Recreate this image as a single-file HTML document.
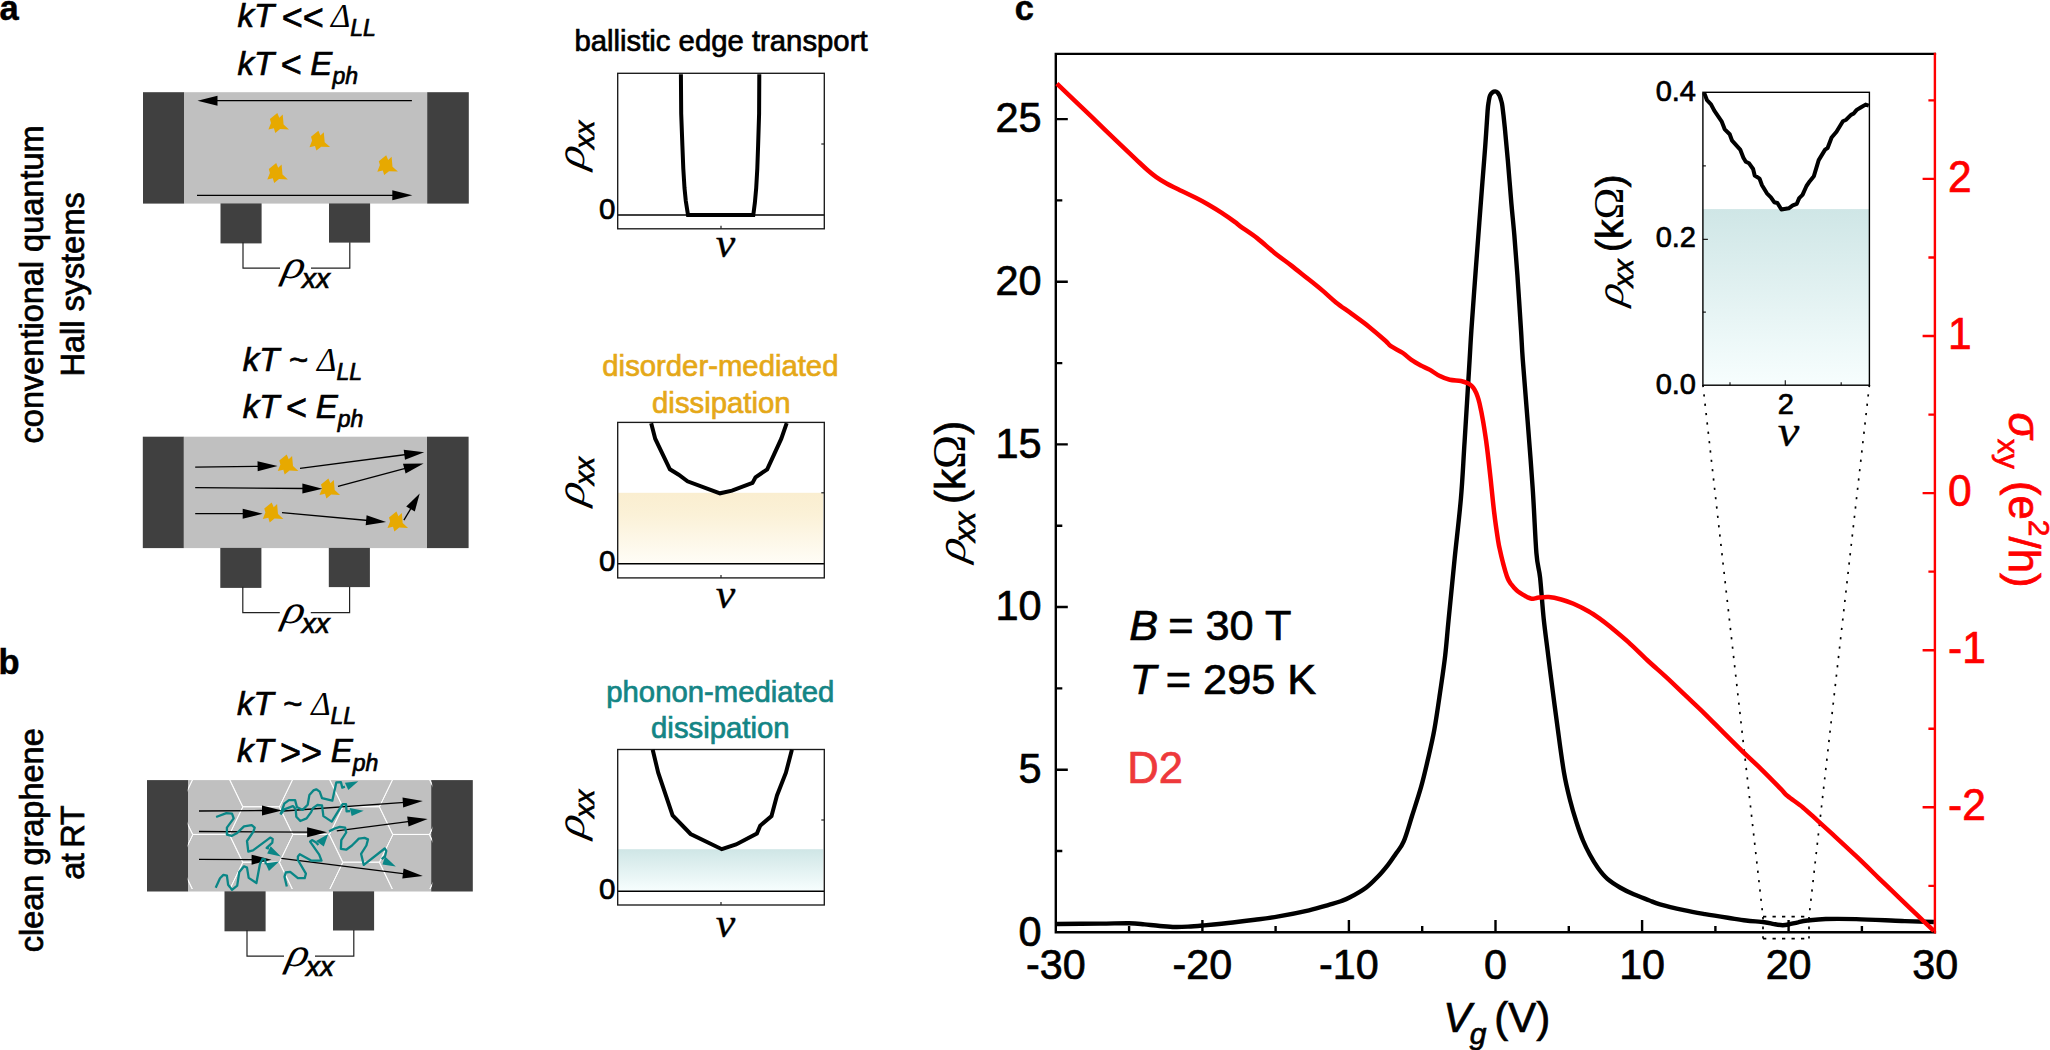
<!DOCTYPE html>
<html lang="en"><head><meta charset="utf-8"><title>Figure</title>
<style>html,body{margin:0;padding:0;background:#fff}body{width:2050px;height:1050px;overflow:hidden}svg{display:block}text{font-family:"Liberation Sans", sans-serif;stroke:#000;stroke-width:.7px}text[fill="#ff0000"]{stroke:#ff0000}text[fill="#ee393b"]{stroke:#ee393b}text[fill="#e5a818"]{stroke:#e5a818}text[fill="#148585"]{stroke:#148585}.i{font-style:italic}.s{font-family:"Liberation Serif", serif;stroke-width:0}.n{stroke-width:.3px}.b{font-weight:bold;stroke-width:.5px}</style></head><body>
<svg width="2050" height="1050" viewBox="0 0 2050 1050">
<defs><linearGradient id="gy" x1="0" y1="0" x2="0" y2="1"><stop offset="0" stop-color="#faeed0"/><stop offset="0.3" stop-color="#fbf1d7"/><stop offset="1" stop-color="#fffdf7"/></linearGradient><linearGradient id="gt" x1="0" y1="0" x2="0" y2="1"><stop offset="0" stop-color="#cfe6e6"/><stop offset="1" stop-color="#f7fefe"/></linearGradient><clipPath id="cg"><rect x="187.8" y="780.1" width="244.4" height="109"/></clipPath></defs>
<text x="-0.5" y="19.6" font-size="34.5" class="b">a</text>
<text x="-1.5" y="673.7" font-size="34.5" class="b">b</text>
<text x="1014.8" y="19.6" font-size="34.5" class="b">c</text>
<text transform="translate(42.9,284.4) rotate(-90)" text-anchor="middle" font-size="32.5" >conventional quantum</text>
<text transform="translate(84.0,284.4) rotate(-90)" text-anchor="middle" font-size="32.5" >Hall systems</text>
<text transform="translate(42.9,840.3) rotate(-90)" text-anchor="middle" font-size="32.5" >clean graphene</text>
<text transform="translate(84.0,842.9) rotate(-90)" text-anchor="middle" font-size="32.5" letter-spacing="-0.5" word-spacing="-2.5">at RT</text>
<text x="237.5" y="27.2" font-size="33" class="i" stroke="#000" stroke-width="0.45">kT<tspan font-size="36" dy="2.5" dx="7">&lt;&lt;</tspan><tspan dy="-2.5" dx="-1.5"> </tspan><tspan class="s i">Δ</tspan><tspan font-size="23" dy="9">LL</tspan></text>
<text x="237.5" y="74.6" font-size="33" class="i" stroke="#000" stroke-width="0.45">kT<tspan font-size="36" dy="2.5" dx="6">&lt;</tspan><tspan dy="-2.5"> E</tspan><tspan class="s i"></tspan><tspan font-size="23" dy="9">ph</tspan></text>
<text x="242.8" y="370.5" font-size="33" class="i" stroke="#000" stroke-width="0.45">kT ~ <tspan class="s i">Δ</tspan><tspan font-size="23" dy="9">LL</tspan></text>
<text x="242.8" y="417.8" font-size="33" class="i" stroke="#000" stroke-width="0.45">kT<tspan font-size="36" dy="2.5" dx="6">&lt;</tspan><tspan dy="-2.5"> E</tspan><tspan class="s i"></tspan><tspan font-size="23" dy="9">ph</tspan></text>
<text x="236.9" y="715.0" font-size="33" class="i" stroke="#000" stroke-width="0.45">kT ~ <tspan class="s i">Δ</tspan><tspan font-size="23" dy="9">LL</tspan></text>
<text x="236.9" y="762.2" font-size="33" class="i" stroke="#000" stroke-width="0.45">kT<tspan font-size="36" dy="2.5" dx="6">&gt;&gt;</tspan><tspan dy="-2.5"> E</tspan><tspan class="s i"></tspan><tspan font-size="23" dy="9">ph</tspan></text>
<rect x="143.0" y="92.2" width="41.1" height="111.4" fill="#404040"/>
<rect x="184.0" y="92.2" width="243.3" height="111.4" fill="#c0c0c0"/>
<rect x="427.2" y="92.2" width="41.6" height="111.4" fill="#404040"/>
<rect x="220.5" y="203.4" width="41.1" height="40" fill="#404040"/>
<rect x="329.0" y="203.4" width="41.1" height="39.2" fill="#404040"/>
<path d="M243.0 242.2V268.2H280.0 M349.8 242.2V268.2H311.0" fill="none" stroke="#222" stroke-width="1.2"/>
<g transform="translate(281.0,278.4) rotate(0)" fill="#000"><text transform="skewX(-12) scale(1.15,1)" font-size="40" class="s i">ρ</text><text x="21.0" y="10.0" font-size="28" class="i" stroke="#000" stroke-width="0.8">xx</text></g>
<line x1="411.9" y1="100.7" x2="215.5" y2="100.7" stroke="#000" stroke-width="1.30"/>
<polygon points="197.5,100.7 217.5,95.7 217.5,105.7" fill="#000"/>
<line x1="197.0" y1="195.3" x2="394.3" y2="195.3" stroke="#000" stroke-width="1.30"/>
<polygon points="412.3,195.3 392.3,200.3 392.3,190.3" fill="#000"/>
<polygon points="277.3,113.0 279.3,117.7 282.7,114.6 283.6,124.6 289.0,129.4 280.1,129.1 275.3,132.9 273.9,128.3 268.4,129.6 271.0,122.9 269.9,119.1" fill="#e7a900"/>
<polygon points="318.4,130.7 320.4,135.4 323.8,132.3 324.7,142.3 330.1,147.1 321.2,146.8 316.4,150.6 315.0,146.0 309.5,147.3 312.1,140.6 311.0,136.8" fill="#e7a900"/>
<polygon points="276.2,163.0 278.2,167.7 281.6,164.6 282.5,174.6 287.9,179.4 279.0,179.1 274.2,182.9 272.8,178.3 267.3,179.6 269.9,172.9 268.8,169.1" fill="#e7a900"/>
<polygon points="386.2,155.2 388.2,159.9 391.6,156.8 392.5,166.8 397.9,171.6 389.0,171.3 384.2,175.1 382.8,170.5 377.3,171.8 379.9,165.1 378.8,161.3" fill="#e7a900"/>
<rect x="142.8" y="436.7" width="41.1" height="111.4" fill="#404040"/>
<rect x="183.8" y="436.7" width="243.3" height="111.4" fill="#c0c0c0"/>
<rect x="427.0" y="436.7" width="41.6" height="111.4" fill="#404040"/>
<rect x="220.3" y="547.9" width="41.1" height="40" fill="#404040"/>
<rect x="328.8" y="547.9" width="41.1" height="39.2" fill="#404040"/>
<path d="M242.8 586.7V612.7H279.8 M349.6 586.7V612.7H310.8" fill="none" stroke="#222" stroke-width="1.2"/>
<g transform="translate(280.8,622.9) rotate(0)" fill="#000"><text transform="skewX(-12) scale(1.15,1)" font-size="40" class="s i">ρ</text><text x="21.0" y="10.0" font-size="28" class="i" stroke="#000" stroke-width="0.8">xx</text></g>
<line x1="195.2" y1="467.1" x2="259.6" y2="466.3" stroke="#000" stroke-width="1.30"/>
<polygon points="277.6,466.1 257.7,471.3 257.5,461.3" fill="#000"/>
<line x1="300.0" y1="468.3" x2="406.3" y2="454.5" stroke="#000" stroke-width="1.30"/>
<polygon points="424.2,452.2 405.0,459.7 403.7,449.8" fill="#000"/>
<line x1="195.2" y1="487.6" x2="304.4" y2="488.5" stroke="#000" stroke-width="1.30"/>
<polygon points="322.4,488.7 302.4,493.5 302.4,483.5" fill="#000"/>
<line x1="338.0" y1="486.4" x2="406.2" y2="468.1" stroke="#000" stroke-width="1.30"/>
<polygon points="423.6,463.4 405.6,473.4 403.0,463.8" fill="#000"/>
<line x1="195.2" y1="513.7" x2="244.7" y2="513.7" stroke="#000" stroke-width="1.30"/>
<polygon points="262.7,513.7 242.7,518.7 242.7,508.7" fill="#000"/>
<line x1="282.0" y1="512.7" x2="368.2" y2="520.5" stroke="#000" stroke-width="1.30"/>
<polygon points="386.1,522.1 365.7,525.3 366.6,515.3" fill="#000"/>
<line x1="403.9" y1="520.2" x2="411.6" y2="507.3" stroke="#000" stroke-width="1.30"/>
<polygon points="419.7,493.5 414.8,511.5 406.2,506.4" fill="#000"/>
<polygon points="286.7,454.5 288.7,459.2 292.1,456.1 293.0,466.1 298.4,470.9 289.5,470.6 284.7,474.4 283.3,469.8 277.8,471.1 280.4,464.4 279.3,460.6" fill="#e7a900"/>
<polygon points="328.4,478.5 330.4,483.2 333.8,480.1 334.7,490.1 340.1,494.9 331.2,494.6 326.4,498.4 325.0,493.8 319.5,495.1 322.1,488.4 321.0,484.6" fill="#e7a900"/>
<polygon points="271.7,502.5 273.7,507.2 277.1,504.1 278.0,514.1 283.4,518.9 274.5,518.6 269.7,522.4 268.3,517.8 262.8,519.1 265.4,512.4 264.3,508.6" fill="#e7a900"/>
<polygon points="396.4,511.5 398.4,516.2 401.8,513.1 402.7,523.1 408.1,527.9 399.2,527.6 394.4,531.4 393.0,526.8 387.5,528.1 390.1,521.4 389.0,517.6" fill="#e7a900"/>
<rect x="147.0" y="780.1" width="41.1" height="111.4" fill="#404040"/>
<rect x="188.0" y="780.1" width="243.3" height="111.4" fill="#c0c0c0"/>
<rect x="431.2" y="780.1" width="41.6" height="111.4" fill="#404040"/>
<rect x="224.5" y="891.3" width="41.1" height="40" fill="#404040"/>
<rect x="333.0" y="891.3" width="41.1" height="39.2" fill="#404040"/>
<path d="M247.0 930.1V956.1H284.0 M353.8 930.1V956.1H315.0" fill="none" stroke="#222" stroke-width="1.2"/>
<g transform="translate(285.0,966.3) rotate(0)" fill="#000"><text transform="skewX(-12) scale(1.15,1)" font-size="40" class="s i">ρ</text><text x="21.0" y="10.0" font-size="28" class="i" stroke="#000" stroke-width="0.8">xx</text></g>
<g clip-path="url(#cg)" stroke="#ffffff" stroke-opacity="0.9" stroke-width="1" fill="none" stroke-linecap="round">
<polygon points="179.5,751.2 192.9,723.5 229.5,723.5 242.9,751.2 229.5,778.9 192.9,778.9"/>
<polygon points="179.5,806.7 192.9,779.0 229.5,779.0 242.9,806.7 229.5,834.4 192.9,834.4"/>
<polygon points="179.5,862.2 192.9,834.5 229.5,834.5 242.9,862.2 229.5,889.9 192.9,889.9"/>
<polygon points="179.5,917.7 192.9,890.0 229.5,890.0 242.9,917.7 229.5,945.4 192.9,945.4"/>
<polygon points="229.5,779.0 242.9,751.3 279.5,751.3 292.9,779.0 279.5,806.7 242.9,806.7"/>
<polygon points="229.5,834.5 242.9,806.8 279.5,806.8 292.9,834.5 279.5,862.2 242.9,862.2"/>
<polygon points="229.5,889.9 242.9,862.2 279.5,862.2 292.9,889.9 279.5,917.6 242.9,917.6"/>
<polygon points="279.5,751.2 292.9,723.5 329.5,723.5 342.9,751.2 329.5,778.9 292.9,778.9"/>
<polygon points="279.5,806.7 292.9,779.0 329.5,779.0 342.9,806.7 329.5,834.4 292.9,834.4"/>
<polygon points="279.5,862.2 292.9,834.5 329.5,834.5 342.9,862.2 329.5,889.9 292.9,889.9"/>
<polygon points="279.5,917.7 292.9,890.0 329.5,890.0 342.9,917.7 329.5,945.4 292.9,945.4"/>
<polygon points="329.5,779.0 342.9,751.3 379.5,751.3 392.9,779.0 379.5,806.7 342.9,806.7"/>
<polygon points="329.5,834.5 342.9,806.8 379.5,806.8 392.9,834.5 379.5,862.2 342.9,862.2"/>
<polygon points="329.5,889.9 342.9,862.2 379.5,862.2 392.9,889.9 379.5,917.6 342.9,917.6"/>
<polygon points="379.5,751.2 392.9,723.5 429.5,723.5 442.9,751.2 429.5,778.9 392.9,778.9"/>
<polygon points="379.5,806.7 392.9,779.0 429.5,779.0 442.9,806.7 429.5,834.4 392.9,834.4"/>
<polygon points="379.5,862.2 392.9,834.5 429.5,834.5 442.9,862.2 429.5,889.9 392.9,889.9"/>
<polygon points="379.5,917.7 392.9,890.0 429.5,890.0 442.9,917.7 429.5,945.4 392.9,945.4"/>
<polygon points="429.5,779.0 442.9,751.3 479.5,751.3 492.9,779.0 479.5,806.7 442.9,806.7"/>
<polygon points="429.5,834.5 442.9,806.8 479.5,806.8 492.9,834.5 479.5,862.2 442.9,862.2"/>
<polygon points="429.5,889.9 442.9,862.2 479.5,862.2 492.9,889.9 479.5,917.6 442.9,917.6"/>
<polygon points="129.5,779.0 142.9,751.3 179.5,751.3 192.9,779.0 179.5,806.7 142.9,806.7"/>
<polygon points="129.5,834.5 142.9,806.8 179.5,806.8 192.9,834.5 179.5,862.2 142.9,862.2"/>
<polygon points="129.5,889.9 142.9,862.2 179.5,862.2 192.9,889.9 179.5,917.6 142.9,917.6"/>
</g>
<line x1="199.0" y1="811.0" x2="264.0" y2="810.5" stroke="#000" stroke-width="1.30"/>
<polygon points="282.0,810.4 262.0,815.5 262.0,805.5" fill="#000"/>
<line x1="283.8" y1="811.0" x2="404.8" y2="802.3" stroke="#000" stroke-width="1.30"/>
<polygon points="422.8,801.0 403.2,807.4 402.5,797.4" fill="#000"/>
<line x1="199.0" y1="831.5" x2="309.1" y2="832.2" stroke="#000" stroke-width="1.30"/>
<polygon points="327.1,832.3 307.1,837.2 307.1,827.2" fill="#000"/>
<line x1="336.8" y1="830.9" x2="409.9" y2="821.3" stroke="#000" stroke-width="1.30"/>
<polygon points="427.7,818.9 408.5,826.5 407.2,816.6" fill="#000"/>
<line x1="199.0" y1="859.4" x2="253.6" y2="859.7" stroke="#000" stroke-width="1.30"/>
<polygon points="271.6,859.8 251.6,864.7 251.6,854.7" fill="#000"/>
<line x1="281.3" y1="858.3" x2="404.9" y2="873.8" stroke="#000" stroke-width="1.30"/>
<polygon points="422.8,876.0 402.3,878.5 403.6,868.6" fill="#000"/>
<polyline points="280.6,814.4 284.3,803.6 288.9,800.1 295.1,800.1 296.9,807.0 302.6,809.9 307.7,804.7 309.4,795.0 313.4,790.4 316.3,789.3 319.7,791.6 322.0,798.1 332.3,800.7 336.3,782.4 340.9,782.1 342.3,787.6 344.9,786.7" fill="none" stroke="#0a8686" stroke-width="2.3" stroke-linejoin="round" stroke-linecap="butt"/>
<polygon points="344.9,782.7 358.3,781.3 348.3,789.9" fill="#0a8686"/>
<polyline points="280.6,814.4 284.3,809.3 292.9,806.1 295.7,809.3 296.3,816.7 300.3,821.0 306.6,818.4 311.1,812.1 312.9,808.1 317.4,805.0 322.0,805.3 323.4,816.1 331.7,821.6 342.6,804.1 346.0,804.1 346.6,811.3 350.0,811.0" fill="none" stroke="#0a8686" stroke-width="2.3" stroke-linejoin="round" stroke-linecap="butt"/>
<polygon points="349.7,807.9 363.7,810.7 351.7,815.9" fill="#0a8686"/>
<polyline points="216.1,817.0 226.4,813.1 232.0,813.6 233.7,818.3 226.9,827.7 226.9,834.6 231.6,835.9 236.7,833.3 244.0,826.4 251.7,825.1 254.7,827.7 253.4,831.6 247.0,841.0 248.3,851.7 253.0,850.4 270.2,837.6 272.7,838.9 272.3,842.7 266.7,847.9 268.9,848.7" fill="none" stroke="#0a8686" stroke-width="2.3" stroke-linejoin="round" stroke-linecap="butt"/>
<polygon points="270.6,846.2 280.9,856.4 267.2,853.4" fill="#0a8686"/>
<polyline points="215.7,887.7 220.0,878.3 223.4,874.9 226.9,875.7 228.1,884.7 232.0,889.9 237.2,885.6 239.3,871.9 244.0,866.3 247.0,867.6 248.7,877.9 256.4,883.0 259.9,864.2 262.4,859.0 265.0,859.4 265.9,864.2" fill="none" stroke="#0a8686" stroke-width="2.3" stroke-linejoin="round" stroke-linecap="butt"/>
<polygon points="265.4,863.3 279.2,861.6 268.9,871.0" fill="#0a8686"/>
<polyline points="286.8,886.6 284.5,876.7 285.7,872.5 290.2,871.8 297.9,878.2 304.7,878.2 305.9,873.7 297.9,860.0 297.9,856.5 299.8,854.2 311.6,860.7 321.5,860.7 319.2,854.6 310.1,841.7 312.0,840.1 316.1,842.4 318.4,845.1" fill="none" stroke="#0a8686" stroke-width="2.3" stroke-linejoin="round" stroke-linecap="butt"/>
<polygon points="316.1,840.9 328.3,834.1 323.8,846.6" fill="#0a8686"/>
<polyline points="329.1,831.4 335.2,828.3 339.8,826.8 345.1,827.6 346.2,832.5 341.3,840.1 340.9,848.9 346.2,849.7 352.0,845.5 358.8,838.6 364.5,837.9 368.0,839.4 366.4,845.5 361.1,853.9 363.8,864.9 384.7,848.5 386.3,850.8 385.1,856.1 381.7,859.2" fill="none" stroke="#0a8686" stroke-width="2.3" stroke-linejoin="round" stroke-linecap="butt"/>
<polygon points="385.1,856.5 395.8,866.4 382.4,864.5" fill="#0a8686"/>
<line x1="617.7" y1="215.0" x2="824.3" y2="215.0" stroke="#000" stroke-width="1.6"/>
<rect x="617.7" y="73.3" width="206.6" height="155.5" fill="none" stroke="#1a1a1a" stroke-width="1.35"/>
<line x1="821.3" y1="144.0" x2="824.3" y2="144.0" stroke="#222" stroke-width="1.2"/>
<line x1="721.0" y1="225.8" x2="721.0" y2="228.8" stroke="#222" stroke-width="1.2"/>
<polyline points="680.9,74.2 681.2,113.6 682.4,145.9 683.3,168.6 684.5,188.0 685.8,201.0 688.0,214.9 753.3,214.9 754.9,202.6 756.2,188.0 757.3,168.6 758.1,145.9 759.1,113.6 759.3,74.2" fill="none" stroke="#000" stroke-width="4" stroke-linejoin="miter"/>
<text x="615.3" y="218.8" text-anchor="end" font-size="29.5">0</text>
<text transform="translate(725.5,256.6) scale(1.1,1.03)" text-anchor="middle" font-size="40" class="s i n">ν</text>
<g transform="translate(583.7,169.7) rotate(-90)" fill="#000"><text transform="skewX(-12) scale(1.15,1)" font-size="40" class="s i">ρ</text><text x="21.0" y="10.0" font-size="28" class="i" stroke="#000" stroke-width="0.8">xx</text></g>
<text x="721.0" y="50.9" text-anchor="middle" font-size="29.3" fill="#000">ballistic edge transport</text>
<rect x="617.7" y="492.8" width="205.4" height="70.9" fill="url(#gy)"/>
<line x1="617.7" y1="563.7" x2="824.3" y2="563.7" stroke="#000" stroke-width="1.6"/>
<rect x="617.7" y="422.4" width="206.6" height="155.5" fill="none" stroke="#1a1a1a" stroke-width="1.35"/>
<line x1="821.3" y1="492.8" x2="824.3" y2="492.8" stroke="#222" stroke-width="1.2"/>
<line x1="721.0" y1="574.9" x2="721.0" y2="577.9" stroke="#222" stroke-width="1.2"/>
<polyline points="651.2,423.2 655.2,438.7 669.9,469.3 678.7,474.7 687.5,481.3 720.0,493.3 732.0,490.7 752.5,482.9 755.5,477.3 767.2,469.3 781.3,438.7 786.7,423.2" fill="none" stroke="#000" stroke-width="4" stroke-linejoin="miter"/>
<text x="615.3" y="570.7" text-anchor="end" font-size="29.5">0</text>
<text transform="translate(725.5,607.5) scale(1.1,1.03)" text-anchor="middle" font-size="40" class="s i n">ν</text>
<g transform="translate(583.7,506.0) rotate(-90)" fill="#000"><text transform="skewX(-12) scale(1.15,1)" font-size="40" class="s i">ρ</text><text x="21.0" y="10.0" font-size="28" class="i" stroke="#000" stroke-width="0.8">xx</text></g>
<text x="720.4" y="376.3" text-anchor="middle" font-size="29.3" fill="#e5a818">disorder-mediated</text>
<text x="721.3" y="412.8" text-anchor="middle" font-size="29.3" fill="#e5a818">dissipation</text>
<rect x="617.7" y="849.2" width="205.4" height="42.0" fill="url(#gt)"/>
<line x1="617.7" y1="891.2" x2="824.3" y2="891.2" stroke="#000" stroke-width="1.6"/>
<rect x="617.7" y="749.5" width="206.6" height="155.5" fill="none" stroke="#1a1a1a" stroke-width="1.35"/>
<line x1="821.3" y1="820.0" x2="824.3" y2="820.0" stroke="#222" stroke-width="1.2"/>
<line x1="721.0" y1="902.0" x2="721.0" y2="905.0" stroke="#222" stroke-width="1.2"/>
<polyline points="652.7,749.8 658.2,772.7 672.6,815.5 690.6,834.0 721.8,849.2 736.1,844.5 756.9,833.5 760.2,825.7 771.5,816.1 777.0,795.4 785.9,772.7 791.9,749.8" fill="none" stroke="#000" stroke-width="4" stroke-linejoin="miter"/>
<text x="615.3" y="898.7" text-anchor="end" font-size="29.5">0</text>
<text transform="translate(725.5,936.6) scale(1.1,1.03)" text-anchor="middle" font-size="40" class="s i n">ν</text>
<g transform="translate(583.7,838.7) rotate(-90)" fill="#000"><text transform="skewX(-12) scale(1.15,1)" font-size="40" class="s i">ρ</text><text x="21.0" y="10.0" font-size="28" class="i" stroke="#000" stroke-width="0.8">xx</text></g>
<text x="720.3" y="702.3" text-anchor="middle" font-size="29.3" fill="#148585">phonon-mediated</text>
<text x="720.3" y="737.6" text-anchor="middle" font-size="29.3" fill="#148585">dissipation</text>
<g fill="none" stroke="#000" stroke-width="1.7">
<path d="M1702.9 385 L1763 917 M1869.4 385 L1809 917" stroke-dasharray="2.2 7.2"/>
<path d="M1763 917V938.6 M1809 917V938.6" stroke-dasharray="2.6 7"/>
<path d="M1763 916.7H1809 M1763 938.6H1809" stroke-dasharray="3.3 6.2"/>
</g>
<path d="M1055.8 53.9H1934.9 M1055.8 53.9V932.3H1934.9" fill="none" stroke="#000" stroke-width="2.4" stroke-linecap="square"/>
<path d="M1055.8 769.7h12 M1055.8 607.0h12 M1055.8 444.4h12 M1055.8 281.8h12 M1055.8 119.1h12 M1055.8 851.0h6.5 M1055.8 688.4h6.5 M1055.8 525.7h6.5 M1055.8 363.1h6.5 M1055.8 200.4h6.5 M1202.4 932.3v-12.3 M1348.9 932.3v-12.3 M1495.5 932.3v-12.3 M1642.1 932.3v-12.3 M1788.6 932.3v-12.3 M1129.1 932.3v-6.4 M1275.6 932.3v-6.4 M1422.2 932.3v-6.4 M1568.8 932.3v-6.4 M1715.4 932.3v-6.4 M1861.9 932.3v-6.4" fill="none" stroke="#000" stroke-width="2.4"/>
<text transform="translate(1041.6,945.6) scale(1,1.035)" text-anchor="end" font-size="41.5">0</text>
<text transform="translate(1041.6,782.9) scale(1,1.035)" text-anchor="end" font-size="41.5">5</text>
<text transform="translate(1041.6,620.2) scale(1,1.035)" text-anchor="end" font-size="41.5">10</text>
<text transform="translate(1041.6,457.6) scale(1,1.035)" text-anchor="end" font-size="41.5">15</text>
<text transform="translate(1041.6,294.9) scale(1,1.035)" text-anchor="end" font-size="41.5">20</text>
<text transform="translate(1041.6,132.3) scale(1,1.035)" text-anchor="end" font-size="41.5">25</text>
<text transform="translate(1055.8,978.7) scale(1,1.035)" text-anchor="middle" font-size="41.3">-30</text>
<text transform="translate(1202.4,978.7) scale(1,1.035)" text-anchor="middle" font-size="41.3">-20</text>
<text transform="translate(1348.9,978.7) scale(1,1.035)" text-anchor="middle" font-size="41.3">-10</text>
<text transform="translate(1495.5,978.7) scale(1,1.035)" text-anchor="middle" font-size="41.3">0</text>
<text transform="translate(1642.1,978.7) scale(1,1.035)" text-anchor="middle" font-size="41.3">10</text>
<text transform="translate(1788.6,978.7) scale(1,1.035)" text-anchor="middle" font-size="41.3">20</text>
<text transform="translate(1935.2,978.7) scale(1,1.035)" text-anchor="middle" font-size="41.3">30</text>
<path d="M1057.0 924.0C1064.2 923.9 1088.0 923.7 1100.0 923.6C1112.0 923.5 1121.8 923.1 1129.2 923.2C1136.6 923.3 1139.4 923.9 1144.5 924.4C1149.6 924.9 1154.9 925.6 1160.0 926.0C1165.1 926.4 1170.2 926.9 1174.9 927.0C1179.6 927.1 1183.4 926.9 1188.0 926.6C1192.6 926.4 1194.9 926.2 1202.4 925.5C1209.9 924.8 1224.0 923.5 1232.8 922.5C1241.6 921.5 1247.4 920.8 1255.0 919.8C1262.6 918.8 1269.6 918.0 1278.6 916.4C1287.6 914.8 1300.6 912.2 1309.0 910.3C1317.4 908.4 1323.6 906.4 1328.8 904.9C1334.0 903.4 1336.5 902.8 1340.0 901.5C1343.5 900.2 1345.6 899.6 1350.0 897.3C1354.4 895.0 1361.6 891.0 1366.3 887.5C1371.0 884.0 1374.3 880.3 1378.0 876.5C1381.7 872.7 1385.2 868.4 1388.2 864.6C1391.2 860.8 1393.4 857.3 1396.0 853.5C1398.6 849.7 1400.9 848.0 1403.6 841.7C1406.3 835.5 1409.1 825.1 1412.0 816.0C1414.9 806.9 1418.4 796.4 1421.1 786.9C1423.8 777.4 1425.8 768.5 1428.0 759.0C1430.2 749.5 1432.3 740.9 1434.3 729.9C1436.3 718.9 1438.2 705.4 1440.0 693.0C1441.8 680.6 1443.8 667.6 1445.2 655.4C1446.6 643.2 1447.0 636.0 1448.6 619.8C1450.2 603.6 1452.7 578.2 1454.7 558.0C1456.8 537.8 1459.2 518.0 1460.9 498.6C1462.6 479.2 1463.1 464.8 1464.6 441.7C1466.0 418.6 1468.5 378.6 1469.6 360.0C1470.7 341.4 1470.4 344.9 1471.4 330.0C1472.4 315.1 1474.4 288.4 1475.7 270.5C1477.0 252.7 1478.2 237.6 1479.3 222.9C1480.4 208.2 1481.4 195.1 1482.4 182.4C1483.4 169.7 1484.3 158.6 1485.2 146.7C1486.1 134.8 1487.0 118.6 1487.6 111.0C1488.2 103.4 1488.4 103.6 1488.8 101.0C1489.2 98.4 1489.4 96.9 1490.0 95.5C1490.6 94.1 1491.4 93.1 1492.3 92.4C1493.2 91.7 1494.3 91.4 1495.2 91.4C1496.1 91.4 1496.9 91.9 1497.6 92.6C1498.3 93.3 1498.9 94.3 1499.5 95.5C1500.1 96.7 1500.5 98.2 1501.0 100.0C1501.5 101.8 1501.8 101.6 1502.4 106.2C1503.0 110.8 1503.9 118.5 1504.8 127.6C1505.7 136.7 1506.8 148.3 1507.9 161.0C1509.0 173.7 1510.3 191.5 1511.4 203.8C1512.5 216.1 1513.3 222.9 1514.3 234.8C1515.3 246.7 1516.3 259.3 1517.4 275.2C1518.5 291.1 1520.1 315.9 1521.0 330.0C1521.9 344.1 1521.7 344.7 1522.8 360.0C1523.9 375.3 1526.0 400.4 1527.7 421.9C1529.4 443.3 1531.2 466.8 1532.7 488.7C1534.2 510.6 1535.2 538.1 1536.4 553.0C1537.6 567.9 1538.9 566.7 1540.1 577.8C1541.3 588.9 1542.4 606.9 1543.8 619.8C1545.2 632.7 1546.7 643.2 1548.2 655.4C1549.7 667.6 1551.4 680.6 1553.0 693.0C1554.6 705.4 1556.1 716.6 1557.9 729.9C1559.7 743.2 1562.0 760.9 1564.0 772.6C1566.0 784.3 1567.9 791.6 1570.0 800.0C1572.1 808.4 1574.5 816.2 1576.7 823.0C1578.9 829.8 1580.8 835.2 1583.0 840.5C1585.2 845.8 1587.4 850.2 1589.9 854.8C1592.4 859.4 1595.1 864.0 1598.0 868.0C1600.9 872.0 1603.7 875.6 1607.4 878.9C1611.1 882.1 1615.6 884.9 1620.0 887.5C1624.4 890.1 1628.9 892.2 1633.7 894.3C1638.5 896.4 1644.4 898.5 1648.8 900.2C1653.2 901.9 1654.2 902.7 1660.0 904.4C1665.8 906.1 1676.4 908.6 1683.9 910.2C1691.4 911.8 1697.7 912.9 1705.0 914.2C1712.3 915.5 1721.0 916.8 1727.8 917.8C1734.6 918.8 1739.9 919.8 1746.0 920.5C1752.1 921.2 1759.7 921.6 1764.4 922.2C1769.1 922.8 1771.0 923.6 1774.0 924.1C1777.0 924.6 1780.2 925.2 1782.7 925.2C1785.2 925.2 1786.5 924.9 1789.1 924.4C1791.6 923.9 1795.0 922.9 1798.0 922.3C1801.0 921.6 1802.8 921.0 1807.4 920.5C1812.0 920.0 1817.6 919.2 1825.7 919.0C1833.8 918.8 1843.5 918.8 1856.2 919.1C1868.9 919.4 1889.0 920.5 1901.9 921.0C1914.9 921.5 1928.6 921.8 1933.9 922.0" fill="none" stroke="#000" stroke-width="4.4" stroke-linejoin="round"/>
<path d="M1056.9 83.7C1060.0 86.7 1069.1 95.4 1075.7 101.7C1082.3 108.0 1089.2 114.5 1096.3 121.4C1103.4 128.3 1112.0 136.6 1118.6 142.9C1125.2 149.2 1130.8 154.5 1135.7 159.1C1140.6 163.7 1144.3 167.3 1147.7 170.3C1151.1 173.3 1153.2 174.9 1156.3 177.1C1159.4 179.3 1162.9 181.4 1166.6 183.5C1170.3 185.6 1173.8 187.1 1178.6 189.5C1183.4 191.9 1190.8 195.2 1195.7 197.7C1200.6 200.1 1203.4 201.7 1207.7 204.2C1212.0 206.7 1216.8 209.6 1221.4 212.6C1226.0 215.6 1232.0 219.8 1235.1 222.1C1238.2 224.3 1236.3 223.4 1240.0 226.1C1243.7 228.8 1251.4 233.7 1257.1 238.1C1262.8 242.5 1268.6 248.1 1274.3 252.7C1280.0 257.3 1285.7 261.2 1291.4 265.6C1297.1 270.0 1303.4 275.2 1308.6 279.3C1313.8 283.4 1317.7 286.5 1322.3 290.4C1326.9 294.2 1331.2 298.5 1336.0 302.4C1340.8 306.3 1346.0 309.6 1351.4 313.6C1356.8 317.6 1362.9 321.8 1368.6 326.4C1374.3 331.0 1382.0 337.7 1385.7 341.0C1389.4 344.3 1388.0 344.2 1390.9 346.2C1393.8 348.2 1399.5 350.7 1402.9 353.0C1406.3 355.3 1408.3 357.8 1411.4 359.9C1414.5 362.0 1418.6 364.2 1421.7 365.9C1424.8 367.6 1427.0 368.2 1430.0 369.9C1433.0 371.6 1436.6 374.5 1439.9 376.1C1443.2 377.8 1446.3 379.0 1449.8 379.8C1453.3 380.6 1457.8 380.4 1460.9 381.0C1464.0 381.6 1466.6 382.7 1468.4 383.5C1470.2 384.3 1470.8 385.0 1471.8 386.0C1472.8 387.0 1473.6 388.1 1474.5 389.7C1475.4 391.3 1476.4 393.2 1477.2 395.5C1478.0 397.8 1478.5 398.9 1479.5 403.3C1480.5 407.7 1482.0 414.7 1483.2 421.9C1484.4 429.1 1485.7 437.1 1486.9 446.6C1488.1 456.1 1489.4 467.7 1490.6 478.8C1491.8 489.9 1493.0 503.1 1494.3 513.4C1495.5 523.7 1497.1 534.1 1498.1 540.6C1499.1 547.1 1499.7 548.8 1500.5 552.5C1501.3 556.2 1502.2 559.7 1503.0 562.9C1503.8 566.1 1504.7 569.1 1505.5 571.8C1506.3 574.5 1507.1 577.0 1508.0 579.0C1508.9 581.0 1509.8 582.3 1510.8 583.8C1511.8 585.2 1512.9 586.4 1514.1 587.7C1515.3 589.0 1516.5 590.4 1518.0 591.5C1519.5 592.6 1521.3 593.7 1522.8 594.6C1524.3 595.5 1525.5 596.3 1527.0 597.0C1528.5 597.7 1530.2 598.6 1531.5 598.8C1532.8 599.0 1533.8 598.6 1535.0 598.4C1536.2 598.2 1536.6 597.8 1538.9 597.6C1541.2 597.4 1545.1 596.8 1548.8 597.1C1552.5 597.4 1557.1 598.4 1561.2 599.5C1565.3 600.6 1569.0 601.8 1573.5 603.8C1578.0 605.8 1584.0 608.7 1588.4 611.2C1592.8 613.7 1596.6 616.4 1600.0 618.8C1603.4 621.2 1604.3 621.9 1609.0 625.7C1613.7 629.6 1621.8 636.2 1628.1 641.9C1634.4 647.6 1640.8 654.1 1647.1 660.0C1653.4 665.9 1659.8 671.2 1666.2 677.1C1672.6 683.0 1678.9 689.2 1685.2 695.2C1691.5 701.2 1698.0 707.1 1704.3 713.3C1710.6 719.5 1716.9 726.0 1723.3 732.4C1729.7 738.8 1736.1 745.2 1742.4 751.4C1748.8 757.5 1755.1 763.1 1761.4 769.3C1767.8 775.5 1776.1 784.1 1780.5 788.6C1784.9 793.1 1783.9 792.9 1787.6 796.0C1791.3 799.1 1797.8 803.2 1802.9 807.4C1808.0 811.6 1813.0 816.5 1818.1 821.1C1823.2 825.7 1826.9 829.0 1833.3 834.9C1839.7 840.8 1848.6 849.0 1856.2 856.2C1863.8 863.4 1871.4 870.9 1879.0 878.3C1886.6 885.7 1895.6 894.3 1901.9 900.4C1908.2 906.5 1911.8 909.8 1917.1 914.9C1922.4 920.0 1931.1 928.2 1933.9 930.9" fill="none" stroke="#ff0000" stroke-width="4.5" stroke-linejoin="round"/>
<path d="M1934.9 52.7V933.5 M1934.9 807.3h-12.3 M1934.9 650.2h-12.3 M1934.9 493.1h-12.3 M1934.9 336.0h-12.3 M1934.9 178.9h-12.3 M1934.9 885.9h-6.5 M1934.9 728.8h-6.5 M1934.9 571.6h-6.5 M1934.9 414.6h-6.5 M1934.9 257.5h-6.5 M1934.9 100.4h-6.5" fill="none" stroke="#ff0000" stroke-width="2.4"/>
<text transform="translate(1948,820.1) scale(1,1.035)" font-size="42.5" fill="#ff0000">-2</text>
<text transform="translate(1948,663.0) scale(1,1.035)" font-size="42.5" fill="#ff0000">-1</text>
<text transform="translate(1948,505.9) scale(1,1.035)" font-size="42.5" fill="#ff0000">0</text>
<text transform="translate(1948,348.8) scale(1,1.035)" font-size="42.5" fill="#ff0000">1</text>
<text transform="translate(1948,191.7) scale(1,1.035)" font-size="42.5" fill="#ff0000">2</text>
<g transform="translate(964.6,562.5) rotate(-90)" fill="#000"><text transform="skewX(-12) scale(1.15,1)" font-size="41" class="s i">ρ</text><text x="20.5" y="10.2" font-size="30" class="i" stroke="#000" stroke-width="0.8">xx</text><text x="58.5" y="0" font-size="42">(k<tspan class="s" font-size="46">Ω</tspan>)</text></g>
<text transform="translate(2008.6,500) rotate(90)" text-anchor="middle" font-size="43.7" fill="#ff0000"><tspan class="i">σ</tspan><tspan font-size="30" dy="10.5">xy</tspan><tspan dy="-10.5"> (e</tspan><tspan font-size="30" dy="-20">2</tspan><tspan dy="20">/h)</tspan></text>
<text x="1443.3" y="1032.4" font-size="42"><tspan class="i">V</tspan><tspan class="i" font-size="30" dy="12" dx="-1.5">g</tspan><tspan dy="-12" dx="-4"> (V)</tspan></text>
<text x="1129.3" y="639.6" font-size="43.3"><tspan class="i">B</tspan><tspan dx="-2"> = 30 T</tspan></text>
<text x="1129.8" y="693.5" font-size="43.3"><tspan class="i">T</tspan><tspan dx="-2.5"> = 295 K</tspan></text>
<text x="1127.2" y="783.3" font-size="43.6" fill="#ee393b">D2</text>
<rect x="1702.9" y="209.1" width="166.5" height="176.1" fill="url(#gt)"/>
<path d="M1702.9 239.4h5 M1702.9 165.8h3 M1702.9 312.1h3 M1785.3 385.2v-5 M1730 385.2v-3 M1841.2 385.2v-3" fill="none" stroke="#222" stroke-width="1.2"/>
<polyline points="1704.2,92.9 1707.0,100.2 1711.0,104.3 1714.3,110.7 1721.6,121.3 1724.8,129.4 1729.7,134.2 1732.1,140.7 1740.2,149.6 1743.4,157.7 1745.8,161.7 1749.1,163.3 1753.1,169.0 1754.7,175.5 1759.6,178.7 1762.0,185.2 1766.9,193.3 1770.9,197.3 1774.2,202.2 1777.4,203.0 1781.4,209.5 1788.7,208.3 1792.8,205.4 1796.8,203.8 1799.2,198.1 1802.5,194.9 1806.5,186.0 1809.8,181.2 1813.8,176.3 1818.7,160.1 1825.1,149.6 1827.6,148.0 1831.6,137.5 1836.5,131.8 1842.9,121.3 1846.2,119.7 1851.0,114.8 1853.5,113.7 1856.7,109.9 1860.7,107.5 1865.6,104.6 1868.8,105.6" fill="none" stroke="#000" stroke-width="4" stroke-linejoin="round"/>
<rect x="1702.9" y="92.3" width="166.5" height="292.9" fill="none" stroke="#000" stroke-width="1.4"/>
<text x="1696" y="100.9" text-anchor="end" font-size="29">0.4</text>
<text x="1696" y="247.0" text-anchor="end" font-size="29">0.2</text>
<text x="1696" y="393.5" text-anchor="end" font-size="29">0.0</text>
<text x="1785.8" y="414.3" text-anchor="middle" font-size="29">2</text>
<text transform="translate(1788.5,446.4) scale(1.08,1)" text-anchor="middle" font-size="45" class="s i n">ν</text>
<g transform="translate(1623.2,306.2) rotate(-90)" fill="#000"><text transform="skewX(-12) scale(1.15,1)" font-size="38" class="s i">ρ</text><text x="19.0" y="9.5" font-size="28" class="i" stroke="#000" stroke-width="0.8">xx</text><text x="54.3" y="0" font-size="39">(k<tspan class="s" font-size="43">Ω</tspan>)</text></g>
</svg></body></html>
